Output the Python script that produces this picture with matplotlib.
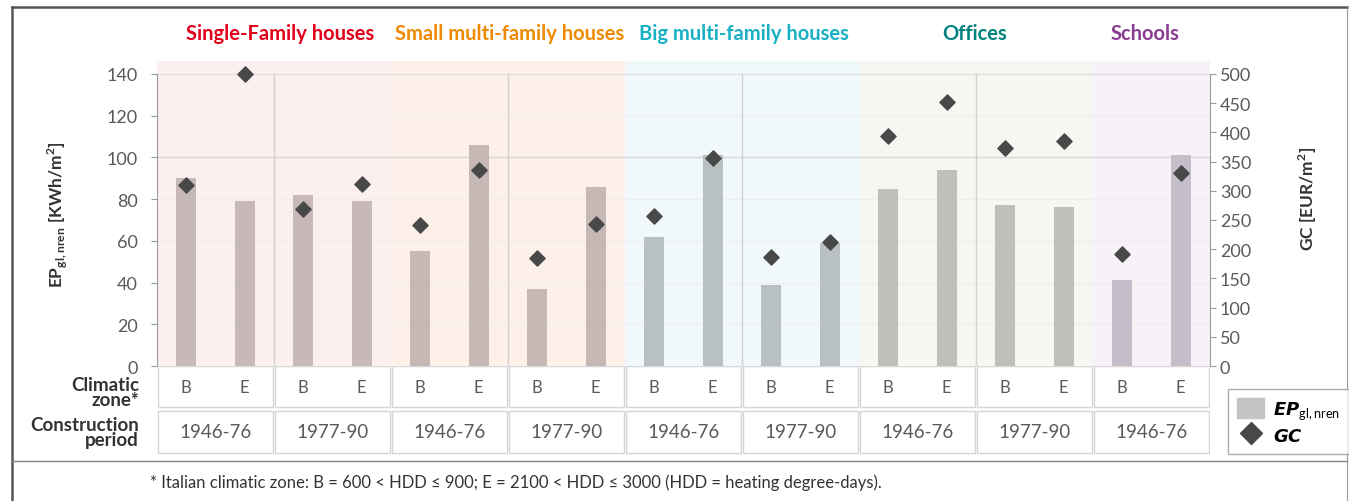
import matplotlib
matplotlib.use("Agg")
import matplotlib.pyplot as plt
from matplotlib.patches import Rectangle, Patch
from matplotlib.lines import Line2D
import numpy as np

plt.rcParams['font.family'] = ['Lato', 'DejaVu Sans']

# ---- data ----
categories = ["Single-Family houses", "Small multi-family houses", "Big multi-family houses", "Offices", "Schools"]
cat_colors = ["#e2001a", "#f08a00", "#17b0c4", "#00837f", "#8a3b8f"]
cat_groups = [2, 2, 2, 2, 1]   # number of period groups per category
periods = ["1946-76", "1977-90", "1946-76", "1977-90", "1946-76", "1977-90", "1946-76", "1977-90", "1946-76"]
zones = ["B", "E"]
ep_B = [90, 82, 55, 37, 62, 39, 85, 77, 41]
ep_E = [79, 79, 106, 86, 101, 59, 94, 76, 101]
gc_B = [310, 269, 241, 185, 257, 187, 394, 373, 192]
gc_E = [500, 312, 336, 243, 356, 212, 452, 385, 330]
left_ticks = [0, 20, 40, 60, 80, 100, 120, 140]
right_ticks = [0, 50, 100, 150, 200, 250, 300, 350, 400, 450, 500]

bg_colors = ["#fbefef", "#fdf0e8", "#f0f8fb", "#f6f7f2", "#f6f2f8"]
bar_colors = ["#c6b9b7", "#c6b8b4", "#b8c0c2", "#bfc0ba", "#c3bec9"]

W, H = 1349, 502
fig = plt.figure(figsize=(W / 100, H / 100), dpi=100)

def fx(px):
    return px / W

def fy(py):
    return 1 - py / H

ax_l, ax_r, ax_t, ax_b = 157, 1210, 62, 367
ax = fig.add_axes([fx(ax_l), fy(ax_b), fx(ax_r - ax_l), fy(ax_t) - fy(ax_b)])
ymax = 146.2
ax.set_xlim(-0.5, len(periods) - 0.5)
ax.set_ylim(0, ymax)

# backgrounds
start = 0
for c, n in enumerate(cat_groups):
    ax.axvspan(start - 0.5, start + n - 0.5, color=bg_colors[c], zorder=0, lw=0)
    start += n

# grid
for v in [20, 40, 60, 80, 120]:
    ax.axhline(v, color="#eeeeee", lw=0.8, zorder=0.5)
ax.axhline(100, color="#d6d6d6", lw=1.0, zorder=0.5)
ax.axhline(140, color="#e0e0e0", lw=1.0, zorder=0.5)
for gx in [0.5, 2.5, 4.5, 6.5]:
    ax.axvline(gx, ymax=140 / ymax, color="#d0d0d0", lw=1.0, zorder=0.5)

x = np.arange(len(periods))
cat_of_group = []
for c, n in enumerate(cat_groups):
    cat_of_group += [c] * n
colors = [bar_colors[c] for c in cat_of_group]
bw = 0.17
ax.bar(x - 0.25, ep_B, width=bw, color=colors, zorder=2, lw=0)
ax.bar(x + 0.25, ep_E, width=bw, color=colors, zorder=2, lw=0)

tick_col = "#5a5a5a"
ax.set_yticks(left_ticks)
ax.set_yticklabels([str(t) for t in left_ticks], fontsize=13, color=tick_col)
ax.set_xticks([])
for s in ["top", "right", "bottom"]:
    ax.spines[s].set_visible(False)
ax.spines["left"].set_bounds(0, 140)
ax.spines["left"].set_color("#999999")
ax.tick_params(axis="y", length=4, color="#999999", pad=10)

ax2 = ax.twinx()
ax2.set_ylim(0, 500 * ymax / 140)
ax2.scatter(x - 0.25, gc_B, marker="D", s=60, color="#484848", zorder=3)
ax2.scatter(x + 0.25, gc_E, marker="D", s=60, color="#484848", zorder=3)
ax2.set_yticks(right_ticks)
ax2.set_yticklabels([str(t) for t in right_ticks], fontsize=13, color=tick_col)
for s in ["top", "left", "bottom"]:
    ax2.spines[s].set_visible(False)
ax2.spines["right"].set_bounds(0, 500)
ax2.spines["right"].set_color("#999999")
ax2.tick_params(axis="y", length=4, color="#999999", pad=3)

ax.set_ylabel(r"EP$_{\mathregular{gl,nren}}$ [KWh/m$^{\mathregular{2}}$]", fontsize=12.5, fontweight="bold", color="#333333")
ax.yaxis.set_label_coords(fx(70 - ax_l) / fx(ax_r - ax_l), 0.5)
ax2.set_ylabel(r"GC [EUR/m$^{\mathregular{2}}$]", fontsize=12.5, fontweight="bold", color="#333333")
ax2.yaxis.set_label_coords(fx(1297 - ax_l) / fx(ax_r - ax_l), 0.55)

# category titles
title_x = [280, 510, 744, 975, 1145]
for name, col, tx in zip(categories, cat_colors, title_x):
    fig.text(fx(tx), fy(34), name, color=col, fontsize=14.5, fontweight="bold", ha="center", va="center")

# table below
tab = fig.add_axes([fx(ax_l), fy(456), fx(ax_r - ax_l), fy(367) - fy(456)])
tab.set_xlim(-0.5, len(periods) - 0.5)
tab.set_ylim(0, 89)
tab.axis("off")
for i in range(len(periods)):
    tab.add_patch(Rectangle((i - 0.5 + 0.01, 48), 0.98, 41, facecolor="white", edgecolor="#d6d6d6", lw=1.0))
    tab.add_patch(Rectangle((i - 0.5 + 0.01, 2), 0.98, 42, facecolor="white", edgecolor="#d6d6d6", lw=1.0))
    tab.text(i - 0.25, 68, zones[0], ha="center", va="center", fontsize=12, color=tick_col)
    tab.text(i + 0.25, 68, zones[1], ha="center", va="center", fontsize=12, color=tick_col)
    tab.text(i, 23, periods[i], ha="center", va="center", fontsize=13.5, color=tick_col)

fig.text(fx(139), fy(393), "Climatic\nzone*", ha="right", va="center", fontsize=13.5, fontweight="bold",
         color="#333333", linespacing=0.92)
fig.text(fx(139), fy(433), "Construction\nperiod", ha="right", va="center", fontsize=13.5, fontweight="bold",
         color="#333333", linespacing=0.92)

# legend
handles = [Patch(facecolor="#c4c4c4", edgecolor="#c4c4c4"),
           Line2D([], [], marker="D", color="#484848", linestyle="none", markersize=11)]
labels = [r"$\bfit{EP}_{\mathregular{gl,nren}}$", r"$\bfit{GC}$"]
leg = fig.legend(handles, labels, loc="upper left", bbox_to_anchor=(fx(1219), fy(381)),
                 frameon=True, fancybox=False, edgecolor="#999999", fontsize=13,
                 handlelength=1.5, handleheight=1.3, borderpad=0.5, labelspacing=0.25, handletextpad=0.5)
leg.get_frame().set_linewidth(1.0)

# frame & footnote
fig.add_artist(Line2D([fx(12), fx(12)], [fy(8), fy(502)], color="#555555", lw=1.8))
fig.add_artist(Line2D([fx(12), fx(1347)], [fy(8), fy(8)], color="#555555", lw=1.8))
fig.add_artist(Line2D([fx(1347), fx(1347)], [fy(8), fy(502)], color="#999999", lw=0.8))
fig.add_artist(Line2D([fx(12), fx(1347)], [fy(462), fy(462)], color="#888888", lw=1.0))
fig.text(fx(150), fy(483), "* Italian climatic zone: B = 600 < HDD \u2264 900; E = 2100 < HDD \u2264 3000 (HDD = heating degree-days).",
         fontsize=12, color="#333333", ha="left", va="center", family=["Liberation Sans Narrow", "Lato", "DejaVu Sans"])

fig.savefig("out.png", dpi=100)
